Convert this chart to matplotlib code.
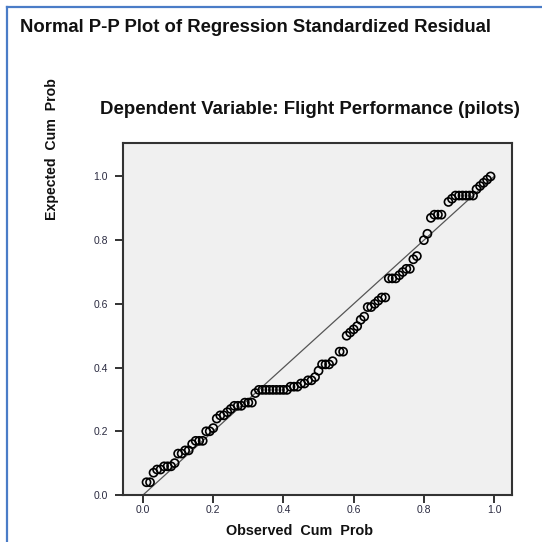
import matplotlib
matplotlib.use("Agg")
import matplotlib.pyplot as plt
from matplotlib.lines import Line2D

observed = [0.01, 0.02, 0.03, 0.04, 0.05, 0.06, 0.07, 0.08, 0.09,
            0.10, 0.11, 0.12, 0.13, 0.14, 0.15, 0.16, 0.17,
            0.18, 0.19, 0.20, 0.21, 0.22, 0.23, 0.24, 0.25,
            0.26, 0.27, 0.28, 0.29, 0.30, 0.31,
            0.32, 0.33, 0.34, 0.35, 0.36, 0.37, 0.38, 0.39, 0.40, 0.41, 0.42,
            0.43, 0.44, 0.45, 0.46, 0.47, 0.48, 0.49, 0.50,
            0.51, 0.52, 0.53, 0.54, 0.56, 0.57,
            0.58, 0.59, 0.60, 0.61, 0.62, 0.63,
            0.64, 0.65, 0.66, 0.67, 0.68, 0.69,
            0.70, 0.71, 0.72, 0.73, 0.74, 0.75, 0.76, 0.77, 0.78,
            0.80, 0.81, 0.82, 0.83, 0.84, 0.85,
            0.87, 0.88, 0.89, 0.90, 0.91, 0.92, 0.93, 0.94,
            0.95, 0.96, 0.97, 0.98, 0.99]
expected = [0.04, 0.04, 0.07, 0.08, 0.08, 0.09, 0.09, 0.09, 0.10,
            0.13, 0.13, 0.14, 0.14, 0.16, 0.17, 0.17, 0.17,
            0.20, 0.20, 0.21, 0.24, 0.25, 0.25, 0.26, 0.27,
            0.28, 0.28, 0.28, 0.29, 0.29, 0.29,
            0.32, 0.33, 0.33, 0.33, 0.33, 0.33, 0.33, 0.33, 0.33, 0.33, 0.34,
            0.34, 0.34, 0.35, 0.35, 0.36, 0.36, 0.37, 0.39,
            0.41, 0.41, 0.41, 0.42, 0.45, 0.45,
            0.50, 0.51, 0.52, 0.53, 0.55, 0.56,
            0.59, 0.59, 0.60, 0.61, 0.62, 0.62,
            0.68, 0.68, 0.68, 0.69, 0.70, 0.71, 0.71, 0.74, 0.75,
            0.80, 0.82, 0.87, 0.88, 0.88, 0.88,
            0.92, 0.93, 0.94, 0.94, 0.94, 0.94, 0.94, 0.94,
            0.96, 0.97, 0.98, 0.99, 1.00]

ticks = [0.0, 0.2, 0.4, 0.6, 0.8, 1.0]
tick_labels = ["0.0", "0.2", "0.4", "0.6", "0.8", "1.0"]

title = "Normal P-P Plot of Regression Standardized Residual"
subtitle = "Dependent Variable: Flight Performance (pilots)"
xlabel = "Observed  Cum  Prob"
ylabel = "Expected  Cum  Prob"

plt.rcParams['font.family'] = ['Liberation Sans', 'DejaVu Sans']

W = H = 542
fig = plt.figure(figsize=(W / 100, H / 100), dpi=100)
fig.patch.set_facecolor("white")

# blue frame (left and top edges)
fig.add_artist(Line2D([7 / W, 7 / W], [0, 1 - 7 / H], color="#4a7cc7", lw=1.6,
                      transform=fig.transFigure))
fig.add_artist(Line2D([7 / W, 1], [1 - 7 / H, 1 - 7 / H], color="#4a7cc7", lw=1.6,
                      transform=fig.transFigure))

ax = fig.add_axes([123 / W, 1 - 495 / H, (512 - 123) / W, (495 - 143) / H])
ax.set_facecolor("#f0f0f0")
ax.set_xlim(-0.057, 1.051)
ax.set_ylim(0.0, 1.105)

ax.plot([0, 1], [0, 1], color="#555555", lw=0.9, zorder=2)
ax.scatter(observed, expected, s=34, facecolors="none", edgecolors="black",
           linewidths=1.2, zorder=3)

ax.set_xticks(ticks)
ax.set_xticklabels(tick_labels)
ax.set_yticks(ticks)
ax.set_yticklabels(tick_labels)
ax.tick_params(direction="out", length=6, width=1.3, labelsize=7.5,
               labelcolor="#2a2a40", color="#222222")
ax.tick_params(axis="x", pad=1.5)
ax.tick_params(axis="y", pad=5)
for sp in ax.spines.values():
    sp.set_linewidth(1.5)
    sp.set_color("#333333")

fig.text(20 / W, 1 - 28 / H, title, fontsize=13.3, fontweight="bold",
         ha="left", va="center", color="#111111")
fig.text(100 / W, 1 - 110 / H, subtitle, fontsize=13.4, fontweight="bold",
         ha="left", va="center", color="#111111")
fig.text(300 / W, 1 - 531 / H, xlabel, fontsize=10.4, fontweight="bold",
         ha="center", va="center", color="#111111")
fig.text(52 / W, 1 - 149 / H, ylabel, fontsize=10.2, fontweight="bold",
         ha="center", va="center", rotation=90, color="#111111")

fig.savefig("out.png", dpi=100)
